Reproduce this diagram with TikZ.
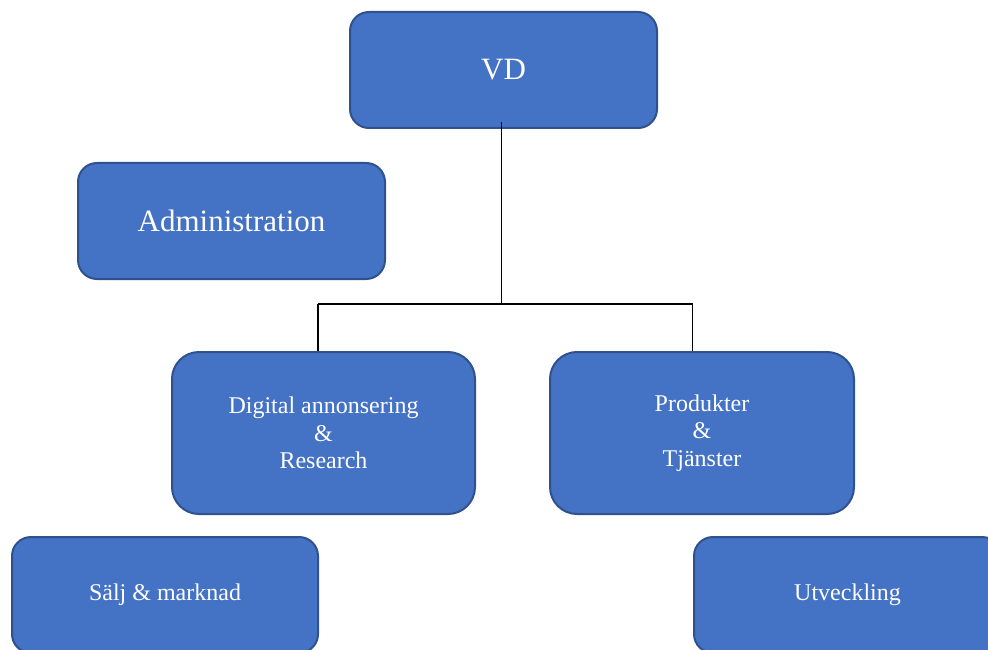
\documentclass[tikz,border=0pt]{standalone}
\usepackage{fontspec}
\setmainfont{Liberation Serif}
\definecolor{boxfill}{HTML}{4472C4}
\definecolor{boxedge}{HTML}{2F528F}
\begin{document}
\begin{tikzpicture}[x=1pt,y=-1pt,
  orgbox/.style={draw=boxedge, line width=2pt, fill=boxfill, text=white,
    rounded corners=19pt, inner sep=0pt, align=center, font=\fontsize{24}{27.5}\selectfont},
  bigbox/.style={orgbox, font=\fontsize{31}{36}\selectfont},
  conn/.style={draw=black, line width=1.3pt}]
\useasboundingbox (0,0) rectangle (988,650);
\node[bigbox, minimum width=307pt, minimum height=116pt] (VD) at (503.5,70) {VD};
\node[bigbox, minimum width=307pt, minimum height=116pt] (ADM) at (231.5,221) {Administration};
\node[orgbox, rounded corners=27pt, minimum width=303pt, minimum height=162pt] (DA) at (323.5,433) {Digital annonsering\\\&\\Research};
\node[orgbox, rounded corners=27pt, minimum width=304pt, minimum height=162pt] (PT) at (702,433) {Produkter\\\&\\Tjänster};
\node[orgbox, minimum width=306pt, minimum height=116pt] (SM) at (165,595) {Sälj \& marknad};
\node[orgbox, minimum width=307pt, minimum height=116pt] (UT) at (847.5,595) {Utveckling};
\coordinate (j) at (501.5,304);
\coordinate (jl) at (318,304);
\coordinate (jr) at (692.5,304);
\draw[conn] ([xshift=-2pt,yshift=7pt]VD.south) -- (j);
\draw[conn] (jl) -- (jr);
\draw[conn] (jl) -- (jl |- DA.north);
\draw[conn] (jr) -- (jr |- PT.north);
\end{tikzpicture}
\end{document}
